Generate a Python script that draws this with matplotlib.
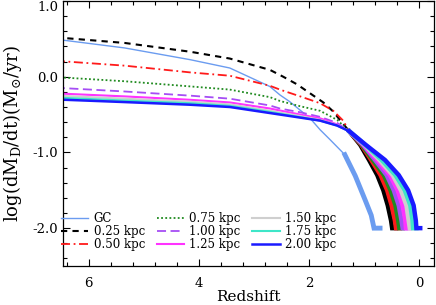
import matplotlib
matplotlib.use('Agg')
import matplotlib.pyplot as plt
from matplotlib.ticker import MultipleLocator, FormatStrFormatter

plt.rcParams['font.family'] = ['DejaVu Serif']
plt.rcParams['mathtext.fontset'] = 'dejavuserif'

labels = ['GC', '0.25 kpc', '0.50 kpc', '0.75 kpc', '1.00 kpc',
          '1.25 kpc', '1.50 kpc', '1.75 kpc', '2.00 kpc']

# upper (smooth) part of each curve: redshift, log accretion rate
gc_z = [6.6, 5.35, 4.16, 3.44, 2.71, 2.53, 2.35, 1.98, 1.80, 1.62, 1.35, 1.16, 0.98, 0.87, 0.82, 0.71]
gc_v = [0.495, 0.38, 0.225, 0.115, -0.13, -0.24, -0.33, -0.55, -0.70, -0.83, -1.03, -1.31, -1.63, -1.83, -2.0, -2.0]

up_z = {
    '0.25 kpc': [6.6, 5.35, 4.16, 3.44, 2.71, 2.47, 2.22, 1.98, 1.74, 1.56, 1.44, 1.27],
    '0.50 kpc': [6.6, 5.35, 4.16, 3.44, 2.71, 2.53, 2.16, 1.80, 1.56, 1.38, 1.27],
    '0.75 kpc': [6.6, 5.35, 4.16, 3.44, 2.71, 2.53, 2.16, 1.80, 1.49, 1.27],
    '1.00 kpc': [6.6, 5.35, 4.16, 3.44, 2.71, 2.53, 2.16, 1.80, 1.49, 1.27],
    '1.25 kpc': [6.6, 5.35, 4.16, 3.44, 2.71, 2.16, 1.80, 1.49, 1.27],
    '1.50 kpc': [6.6, 5.35, 4.16, 3.44, 2.71, 2.16, 1.80, 1.49, 1.27],
    '1.75 kpc': [6.6, 5.35, 4.16, 3.44, 2.71, 2.16, 1.80, 1.49, 1.27],
    '2.00 kpc': [6.6, 5.35, 4.16, 3.44, 2.71, 2.16, 1.80, 1.49, 1.27],
}
up_v = {
    '0.25 kpc': [0.52, 0.446, 0.33, 0.24, 0.09, 0.0, -0.1, -0.22, -0.34, -0.46, -0.57, -0.72],
    '0.50 kpc': [0.21, 0.146, 0.057, 0.013, -0.12, -0.17, -0.26, -0.35, -0.45, -0.58, -0.72],
    '0.75 kpc': [-0.005, -0.06, -0.128, -0.17, -0.27, -0.32, -0.39, -0.45, -0.57, -0.72],
    '1.00 kpc': [-0.145, -0.195, -0.25, -0.29, -0.38, -0.42, -0.47, -0.53, -0.61, -0.72],
    '1.25 kpc': [-0.22, -0.26, -0.305, -0.34, -0.42, -0.50, -0.55, -0.63, -0.72],
    '1.50 kpc': [-0.25, -0.29, -0.33, -0.365, -0.45, -0.52, -0.57, -0.64, -0.72],
    '1.75 kpc': [-0.275, -0.315, -0.35, -0.385, -0.465, -0.535, -0.58, -0.645, -0.72],
    '2.00 kpc': [-0.30, -0.335, -0.37, -0.40, -0.48, -0.54, -0.58, -0.645, -0.72],
}

# lower (noisy) part: shared rate levels, redshift per curve
low_v = [-0.72, -0.9, -1.1, -1.3, -1.5, -1.7, -1.9, -2.0, -2.0]
low_z = {
    '0.25 kpc': [1.27, 1.07, 0.91, 0.76, 0.65, 0.57, 0.51, 0.49, 0.42],
    '0.50 kpc': [1.27, 1.05, 0.87, 0.70, 0.58, 0.50, 0.44, 0.42, 0.35],
    '0.75 kpc': [1.27, 1.04, 0.84, 0.64, 0.52, 0.43, 0.38, 0.36, 0.30],
    '1.00 kpc': [1.27, 1.02, 0.80, 0.59, 0.46, 0.37, 0.32, 0.30, 0.24],
    '1.25 kpc': [1.27, 1.01, 0.76, 0.53, 0.39, 0.30, 0.25, 0.24, 0.18],
    '1.50 kpc': [1.27, 0.99, 0.72, 0.48, 0.33, 0.23, 0.19, 0.17, 0.11],
    '1.75 kpc': [1.27, 0.98, 0.68, 0.43, 0.26, 0.16, 0.12, 0.11, 0.05],
    '2.00 kpc': [1.27, 0.97, 0.62, 0.37, 0.20, 0.10, 0.06, 0.05, -0.02],
}

colors = {'GC': '#6b9cf0', '0.25 kpc': 'black', '0.50 kpc': '#ff1a1a',
          '0.75 kpc': '#1f8a1f', '1.00 kpc': '#a64df5', '1.25 kpc': '#ff33ff',
          '1.50 kpc': '#cfcfcf', '1.75 kpc': '#3ee6c8', '2.00 kpc': '#1a1aff'}
styles = {'0.25 kpc': (0, (3, 2.5)), '0.50 kpc': (0, (5, 2, 1, 2)),
          '0.75 kpc': (0, (1, 1.3)), '1.00 kpc': (0, (5, 2.5)),
          '1.25 kpc': '-', '1.50 kpc': '-', '1.75 kpc': '-', '2.00 kpc': '-'}
widths = {'0.25 kpc': 1.5, '0.50 kpc': 1.3, '0.75 kpc': 1.3, '1.00 kpc': 1.3,
          '1.25 kpc': 1.5, '1.50 kpc': 1.5, '1.75 kpc': 1.5, '2.00 kpc': 1.8}

fig = plt.figure(figsize=(4.36, 3.05), dpi=100)
ax = fig.add_axes([63/436, 39/305, 371/436, 265/305])

ax.plot(gc_z[:11], gc_v[:11], color=colors['GC'], lw=1.0, label='GC')
ax.plot(gc_z[10:], gc_v[10:], color=colors['GC'], lw=3.5, solid_joinstyle='miter')

for lab in labels[1:]:
    ax.plot(up_z[lab], up_v[lab], color=colors[lab], ls=styles[lab],
            lw=widths[lab], label=lab)
    ax.plot(low_z[lab], low_v, color=colors[lab], lw=3.2, solid_joinstyle='miter')

ax.set_xlim(6.47, -0.27)
ax.set_ylim(-2.5, 1.0)
ax.xaxis.set_major_locator(MultipleLocator(2))
ax.xaxis.set_minor_locator(MultipleLocator(0.4))
ax.yaxis.set_major_locator(MultipleLocator(1))
ax.yaxis.set_minor_locator(MultipleLocator(0.2))
ax.yaxis.set_major_formatter(FormatStrFormatter('%.1f'))
ax.tick_params(which='both', direction='in', top=True, right=True, labelsize=9.5, width=0.8)
ax.tick_params(which='major', length=5)
ax.tick_params(which='minor', length=3)
ax.tick_params(axis='x', pad=8)
for s in ax.spines.values():
    s.set_linewidth(0.9)

ax.set_xlabel('Redshift', fontsize=11, labelpad=0)
ax.set_ylabel(r'log(dM$_{\rm D}$/dt)(M$_{\odot}$/yr)', fontsize=13, labelpad=6)

ax.legend(ncol=3, loc='lower left', bbox_to_anchor=(-0.005, 0.055), frameon=False,
          fontsize=8.5, handlelength=2.3, handletextpad=0.45, columnspacing=1.0,
          labelspacing=0.0, borderpad=0, borderaxespad=0)

fig.canvas.draw()
for t in ax.get_yticklabels():
    if t.get_text() == '1.0':
        t.set_verticalalignment('top')

fig.savefig('out.png', dpi=100)
